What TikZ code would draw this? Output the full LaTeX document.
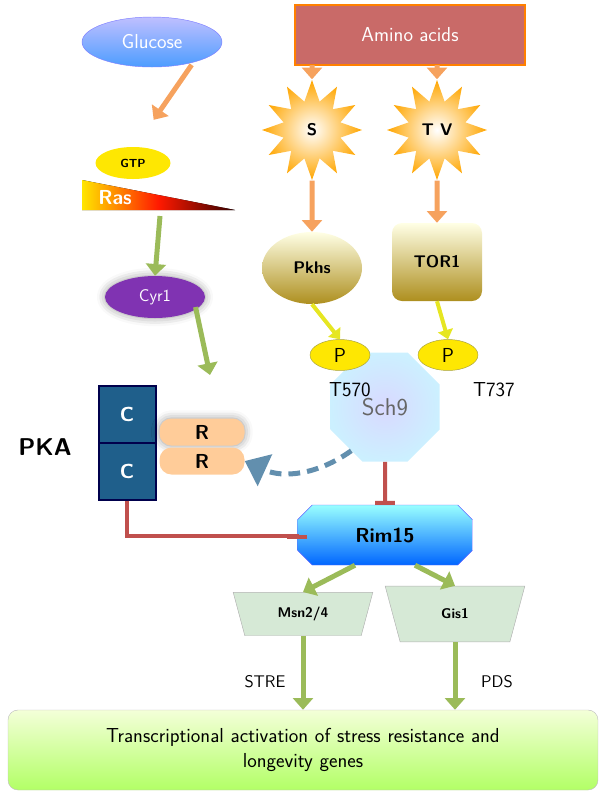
\documentclass[tikz,border=0pt]{standalone}
\usepackage{tikz}
\usetikzlibrary{shapes.geometric, shapes.misc, arrows.meta, positioning, shadows.blur}
\definecolor{orgarr}{HTML}{F6A25E}
\definecolor{grnarr}{HTML}{9BBB59}
\definecolor{redinh}{HTML}{C0504D}
\definecolor{yelarr}{HTML}{E6E622}
\definecolor{pkablue}{HTML}{1F5F8B}
\newdimen\px \px=0.03cm
\tikzset{
  act/.style={line width=5\px, -{Triangle[length=10pt,width=17pt]}},
  inh/.style={line width=4\px, redinh, -{Bar[width=17pt]}},
  khaki/.style={draw=none, top color=yellow!10!white, bottom color=brown!60!yellow!80!black},
  trap/.style={trapezium, trapezium angle=75, shape border rotate=180, draw=gray!60,
    fill=green!30!gray!25, minimum width=140\px, minimum height=36\px, font=\sffamily\bfseries\large},
  pnode/.style={ellipse, fill=yellow!90!orange, draw=yellow!60!black, minimum width=60\px,
    minimum height=30\px, font=\sffamily\LARGE},
  star5/.style={star, star points=12, star point ratio=1.7, draw=none,
    minimum size=100\px, inner color=white, outer color=orange!70!yellow, font=\sffamily\bfseries\Large},
  cbox/.style={draw=blue!30!black, line width=2\px, fill=pkablue, minimum size=57\px,
    text=white, font=\sffamily\bfseries\LARGE},
  rbox/.style={rounded corners=12\px, fill=orange!40!white, minimum width=85\px, minimum height=27\px,
    font=\sffamily\bfseries\LARGE},
}
\begin{document}
\begin{tikzpicture}[x=0.03cm, y=-0.03cm]
  \useasboundingbox (0,0) rectangle (607,800);
  % 输入信号
  \node (glc) [ellipse, minimum width=140\px, minimum height=50\px, top color=blue!25!white,
    bottom color=blue!55!cyan!70!white, draw=blue!50, font=\sffamily\LARGE, text=white]
    at (152,42) {Glucose};
  \node (aa) [draw=orange, line width=1.2pt, fill=redinh!85!white,
    text=white, font=\sffamily\LARGE, minimum width=230\px, minimum height=60\px] at (410,35) {Amino acids};

  % Ras 分支
  \fill[left color=yellow!80!orange, right color=black!80!red, middle color=red!80!orange]
    (82,180) -- (82,210) -- (235,210) -- cycle;
  \node (gtp) [ellipse, fill=yellow!90!orange, minimum width=75\px, minimum height=32\px,
    font=\sffamily\bfseries] at (133,163) {GTP};
  \node (ras) [text=white, font=\sffamily\bfseries\LARGE] at (115,198) {Ras};
  \coordinate (rasb) at (160,216);
  \node (cyr) [ellipse, fill=violet!75!blue!80!white, text=white, minimum width=100\px,
    minimum height=42\px, font=\sffamily\Large, blur shadow={shadow blur radius=7pt,
    shadow xshift=0pt, shadow yshift=0pt, shadow opacity=40}] at (155,297) {Cyr1};

  % 氨基酸感受
  \node (s) [star5] at (312,130) {S};
  \node (tv) [star5] at (437,130) {T V};
  \node (pkh) [ellipse, khaki, minimum width=100\px, minimum height=72\px, font=\sffamily\bfseries\Large]
    at (312,268) {Pkhs};
  \node (tor) [rounded corners=10\px, khaki, minimum width=90\px, minimum height=78\px,
    font=\sffamily\bfseries\Large] at (437,262) {TOR1};

  % Sch9
  \node (sch) [regular polygon, regular polygon sides=8, minimum size=118\px,
    inner color=blue!15!white, outer color=blue!30!cyan!20!white, font=\sffamily\huge,
    text=black!60] at (385,407) {Sch9};
  \node (p1) [pnode] at (340,355) {P};
  \node (p2) [pnode] at (448,355) {P};
  \node (t570) [font=\sffamily\LARGE] at (350,390) {T570};
  \node (t737) [font=\sffamily\LARGE] at (494,390) {T737};

  % PKA
  \node (c1) [cbox] at (127,414) {C};
  \node (c2) [cbox] at (127,471) {C};
  \node (r1) [rbox, blur shadow={shadow xshift=0pt, shadow yshift=0pt,
    shadow blur radius=7pt}] at (202,432) {R};
  \node (r2) [rbox] at (202,461) {R};
  \node (pka) [font=\sffamily\bfseries\huge] at (45,447) {PKA};

  % Rim15 与下游
  \node (rim) [chamfered rectangle, chamfered rectangle xsep=30\px, minimum width=175\px,
    minimum height=60\px, top color=cyan!40!white, bottom color=blue!60!cyan, draw=blue!60,
    font=\sffamily\bfseries\LARGE] at (385,535) {Rim15};
  \node (msn) [trap] at (303,614) {Msn2/4};
  \node (gis) [trap] at (455,614) {Gis1};
  \node (stre) [font=\sffamily\Large] at (265,682) {STRE};
  \node (pds) [font=\sffamily\Large] at (497,682) {PDS};
  \node (out) [rounded corners=10\px, draw=gray!50, top color=green!30!yellow!15!white,
    bottom color=green!50!yellow!60!white, minimum width=590\px, minimum height=80\px,
    font=\sffamily\LARGE, align=center, text width=560\px] at (303,750)
    {Transcriptional activation of stress resistance and\\longevity genes};

  % 连线
  \draw[act, orgarr] (glc.south east) ++(-10,5) -- ++(-38,55);
  \draw[act, orgarr] (312,65) -- (s.north);
  \draw[act, orgarr] (437,65) -- (tv.north);
  \draw[act, orgarr] (s.south) -- (pkh.north);
  \draw[act, orgarr] (tv.south) -- (tor.north);
  \draw[act, grnarr] (rasb) -- (cyr.north);
  \draw[act, grnarr] (cyr.south east) ++(5,-5) -- (210,375);
  \draw[line width=4\px, yelarr, -{Triangle[length=8pt,width=13pt]}] (pkh.south) -- (p1.north);
  \draw[line width=4\px, yelarr, -{Triangle[length=8pt,width=13pt]}] (tor.south) -- (p2.north);
  \draw[line width=5\px, pkablue!70!white, dash pattern=on 10pt off 6pt,
    -{Triangle[length=19pt,width=29pt]}]
    (sch.south west) ++(5,5) to[bend left=30] (r2.east);
  \draw[inh] (sch.south) -- (rim.north);
  \draw[inh] (c2.south) -- ++(0,35) -| coordinate (pkae) ($(rim.west)$) ;
  \draw[act, grnarr] (rim.south) ++(-30,0) -- (msn.north);
  \draw[act, grnarr] (rim.south) ++(30,0) -- (gis.north);
  \draw[act, grnarr] (msn.south) -- (out.north -| msn.south);
  \draw[act, grnarr] (gis.south) -- (out.north -| gis.south);
\end{tikzpicture}
\end{document}
